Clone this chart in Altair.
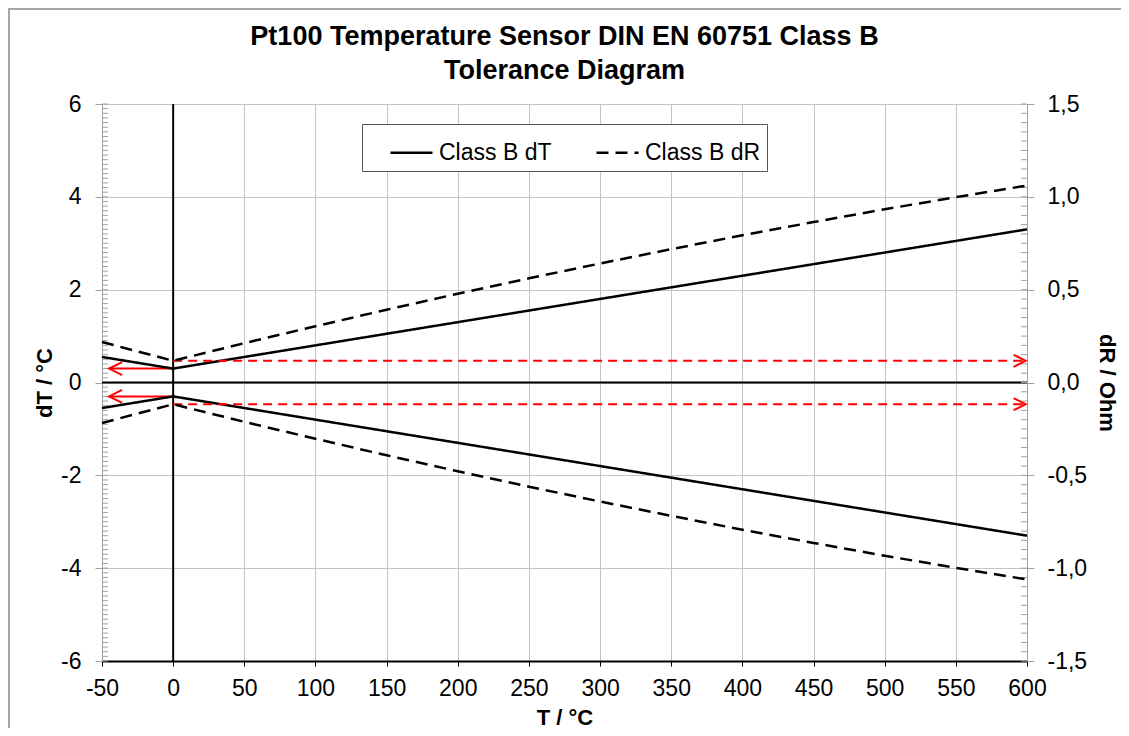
import altair as alt
import pandas as pd
import numpy as np

# ---------------- data ----------------
T_C = [-50, 0, 50, 100, 150, 200, 250, 300, 350, 400, 450, 500, 550, 600]
DT_B = [0.55, 0.30, 0.55, 0.80, 1.05, 1.30, 1.55, 1.80, 2.05, 2.30, 2.55, 2.80, 3.05, 3.30]      # °C
DR_B = [0.218, 0.117, 0.212, 0.303, 0.392, 0.478, 0.561, 0.641, 0.718, 0.793, 0.864, 0.933, 0.998, 1.061]  # Ohm
SERIES = ["Class B dT", "Class B dR"]
TITLE = ["Pt100 Temperature Sensor DIN EN 60751 Class B", "Tolerance Diagram"]
X_TICKS = [-50, 0, 50, 100, 150, 200, 250, 300, 350, 400, 450, 500, 550, 600]
Y_LEFT_TICKS = [-6, -4, -2, 0, 2, 4, 6]
Y_RIGHT_TICKS = [-1.5, -1.0, -0.5, 0.0, 0.5, 1.0, 1.5]
Y_LEFT_MINOR = [round(v, 1) for v in np.arange(-6.0, 6.01, 0.1)]
Y_RIGHT_MINOR = [round(v, 2) for v in np.arange(-1.5, 1.501, 0.05)]
ARROW_DT_FROM, ARROW_DT_TO, ARROW_DT_LEVEL = 0, -45, 0.30     # °C, left scale
ARROW_DR_FROM, ARROW_DR_TO, ARROW_DR_LEVEL = 0, 599, 0.117    # Ohm, right scale

W, H = 925, 557
FONT = "Liberation Sans"
GRID = "#C4C4C4"
AXGRAY = "#A0A0A0"
LBL = 23
TTL = 22

# ---------------- tables ----------------
rows = []
for t, dt, dr in zip(T_C, DT_B, DR_B):
    for s, b in ((1, "upper"), (-1, "lower")):
        rows.append({"T": t, "v": s * dt, "branch": b, "series": SERIES[0], "kind": "dT"})
        rows.append({"T": t, "v": s * dr, "branch": b, "series": SERIES[1], "kind": "dR"})
df = pd.DataFrame(rows)
df_dt = df[df.kind == "dT"]
df_dr = df[df.kind == "dR"]

arr_dt = pd.DataFrame([
    {"T": ARROW_DT_FROM, "v": ARROW_DT_LEVEL, "branch": "upper"},
    {"T": ARROW_DT_TO, "v": ARROW_DT_LEVEL, "branch": "upper"},
    {"T": ARROW_DT_FROM, "v": -ARROW_DT_LEVEL, "branch": "lower"},
    {"T": ARROW_DT_TO, "v": -ARROW_DT_LEVEL, "branch": "lower"},
])
arr_dt_head = pd.DataFrame([{"T": ARROW_DT_TO, "v": ARROW_DT_LEVEL},
                            {"T": ARROW_DT_TO, "v": -ARROW_DT_LEVEL}])
arr_dr = pd.DataFrame([
    {"T": ARROW_DR_FROM, "v": ARROW_DR_LEVEL, "branch": "upper"},
    {"T": ARROW_DR_TO, "v": ARROW_DR_LEVEL, "branch": "upper"},
    {"T": ARROW_DR_FROM, "v": -ARROW_DR_LEVEL, "branch": "lower"},
    {"T": ARROW_DR_TO, "v": -ARROW_DR_LEVEL, "branch": "lower"},
])
arr_dr_head = pd.DataFrame([{"T": ARROW_DR_TO, "v": ARROW_DR_LEVEL},
                            {"T": ARROW_DR_TO, "v": -ARROW_DR_LEVEL}])

# ---------------- encodings ----------------
def X():
    return alt.X("T:Q", scale=alt.Scale(domain=[-50, 600], nice=False, zero=False),
                 axis=alt.Axis(values=X_TICKS, title="T / °C", grid=True, gridColor=GRID,
                               domainColor="black", domainWidth=2, tickColor="black",
                               tickSize=5, labelPadding=11, labelFontSize=LBL,
                               labelFlush=False, labelOverlap=False,
                               titleFontSize=TTL, titleFontWeight="bold", titlePadding=7,
                               labelColor="black", titleColor="black",
                               labelExpr="datum.value < 0 ? '-' + format(-datum.value, 'd') : format(datum.value, 'd')"))

def YL():
    return alt.Y("v:Q", scale=alt.Scale(domain=[-6, 6], nice=False, zero=False),
                 axis=alt.Axis(values=Y_LEFT_TICKS, title="dT / °C", grid=True, gridColor=GRID,
                               domainColor=AXGRAY, tickColor=AXGRAY, tickSize=7,
                               labelPadding=14, labelFontSize=LBL, titleFontSize=TTL,
                               labelFlush=False, labelOverlap=False,
                               titleFontWeight="bold", titlePadding=4,
                               labelColor="black", titleColor="black",
                               labelExpr="datum.value < 0 ? '-' + format(-datum.value, 'd') : format(datum.value, 'd')"))

def YR():
    return alt.Y("v:Q", scale=alt.Scale(domain=[-1.5, 1.5], nice=False, zero=False),
                 axis=alt.Axis(values=Y_RIGHT_TICKS, title="dR / Ohm", orient="right", grid=False,
                               domainColor=AXGRAY, tickColor=AXGRAY, tickSize=7,
                               labelPadding=13, labelFontSize=LBL, titleFontSize=TTL,
                               labelFlush=False, labelOverlap=False,
                               titleFontWeight="bold", titlePadding=8,
                               labelColor="black", titleColor="black",
                               labelExpr="(datum.value < 0 ? '-' : '') + replace(format(abs(datum.value), '.1f'), '.', ',')"))

dash = alt.StrokeDash("series:N",
                      scale=alt.Scale(domain=SERIES, range=[[1, 0], [12, 7]]),
                      legend=alt.Legend(orient="none", legendX=260, legendY=20,
                                        direction="horizontal", title=None,
                                        symbolType="M-1,0L1,0", symbolSize=1764,
                                        symbolStrokeWidth=2.5, symbolStrokeColor="black",
                                        labelFontSize=LBL, labelFont=FONT, labelColor="black",
                                        strokeColor="#555555", fillColor="white",
                                        padding=6, columnPadding=22, labelOffset=5,
                                        symbolOffset=21))

# ---------------- left (dT) group ----------------
border = alt.Chart(pd.DataFrame({"k": [0]})).mark_rect(
    fillOpacity=0, stroke="#A6A6A6", strokeWidth=2).encode(
    x=alt.value(-93), x2=alt.value(1040), y=alt.value(-95), y2=alt.value(650))

zero_x = alt.Chart(pd.DataFrame({"T": [0]})).mark_rule(color="black", strokeWidth=2).encode(x=X())
zero_y = alt.Chart(pd.DataFrame({"v": [0]})).mark_rule(color="black", strokeWidth=2).encode(y=YL())

minor_left = alt.Chart(pd.DataFrame({"v": Y_LEFT_MINOR})).mark_rule(
    color=AXGRAY, strokeWidth=1).encode(y=YL(), x=alt.value(0), x2=alt.value(6))

dt_lines = alt.Chart(df_dt).mark_line(color="black", strokeWidth=2.5).encode(
    x=X(), y=YL(), detail="branch:N", strokeDash=dash)

dt_arrow = alt.Chart(arr_dt).mark_line(color="#FF0000", strokeWidth=2).encode(
    x=X(), y=YL(), detail="branch:N")
dt_head = alt.Chart(arr_dt_head).mark_point(
    shape="M1,-0.5L0,0L1,0.5", filled=False, stroke="#FF0000", strokeWidth=2,
    size=676, opacity=1).encode(x=X(), y=YL())

left = alt.layer(border, minor_left, zero_x, zero_y, dt_arrow, dt_head, dt_lines)

# ---------------- right (dR) group ----------------
minor_right = alt.Chart(pd.DataFrame({"v": Y_RIGHT_MINOR})).mark_rule(
    color=AXGRAY, strokeWidth=1).encode(y=YR(), x=alt.value(W - 6), x2=alt.value(W))

dr_arrow = alt.Chart(arr_dr).mark_line(color="#FF0000", strokeWidth=2, strokeDash=[9, 6]).encode(
    x=X(), y=YR(), detail="branch:N")
dr_head = alt.Chart(arr_dr_head).mark_point(
    shape="M-1,-0.5L0,0L-1,0.5", filled=False, stroke="#FF0000", strokeWidth=2,
    size=576, opacity=1).encode(x=X(), y=YR())

dr_lines = alt.Chart(df_dr).mark_line(color="black", strokeWidth=2.5).encode(
    x=X(), y=YR(), detail="branch:N", strokeDash=dash)

right = alt.layer(minor_right, dr_arrow, dr_head, dr_lines)

chart = alt.layer(left, right).resolve_scale(y="independent").properties(
    width=W, height=H,
    title=alt.TitleParams(TITLE, fontSize=27, font=FONT, fontWeight="bold",
                          anchor="middle", offset=0, dy=77, lineHeight=34, color="black"),
    autosize=alt.AutoSizeParams(type="none"),
    padding={"left": 94, "top": 96, "right": 94, "bottom": 67},
).configure_view(stroke=None).configure_axis(
    labelFont=FONT, titleFont=FONT
).configure(background="white")

chart.save("out.html", embed_options={"renderer": "svg", "actions": False})
